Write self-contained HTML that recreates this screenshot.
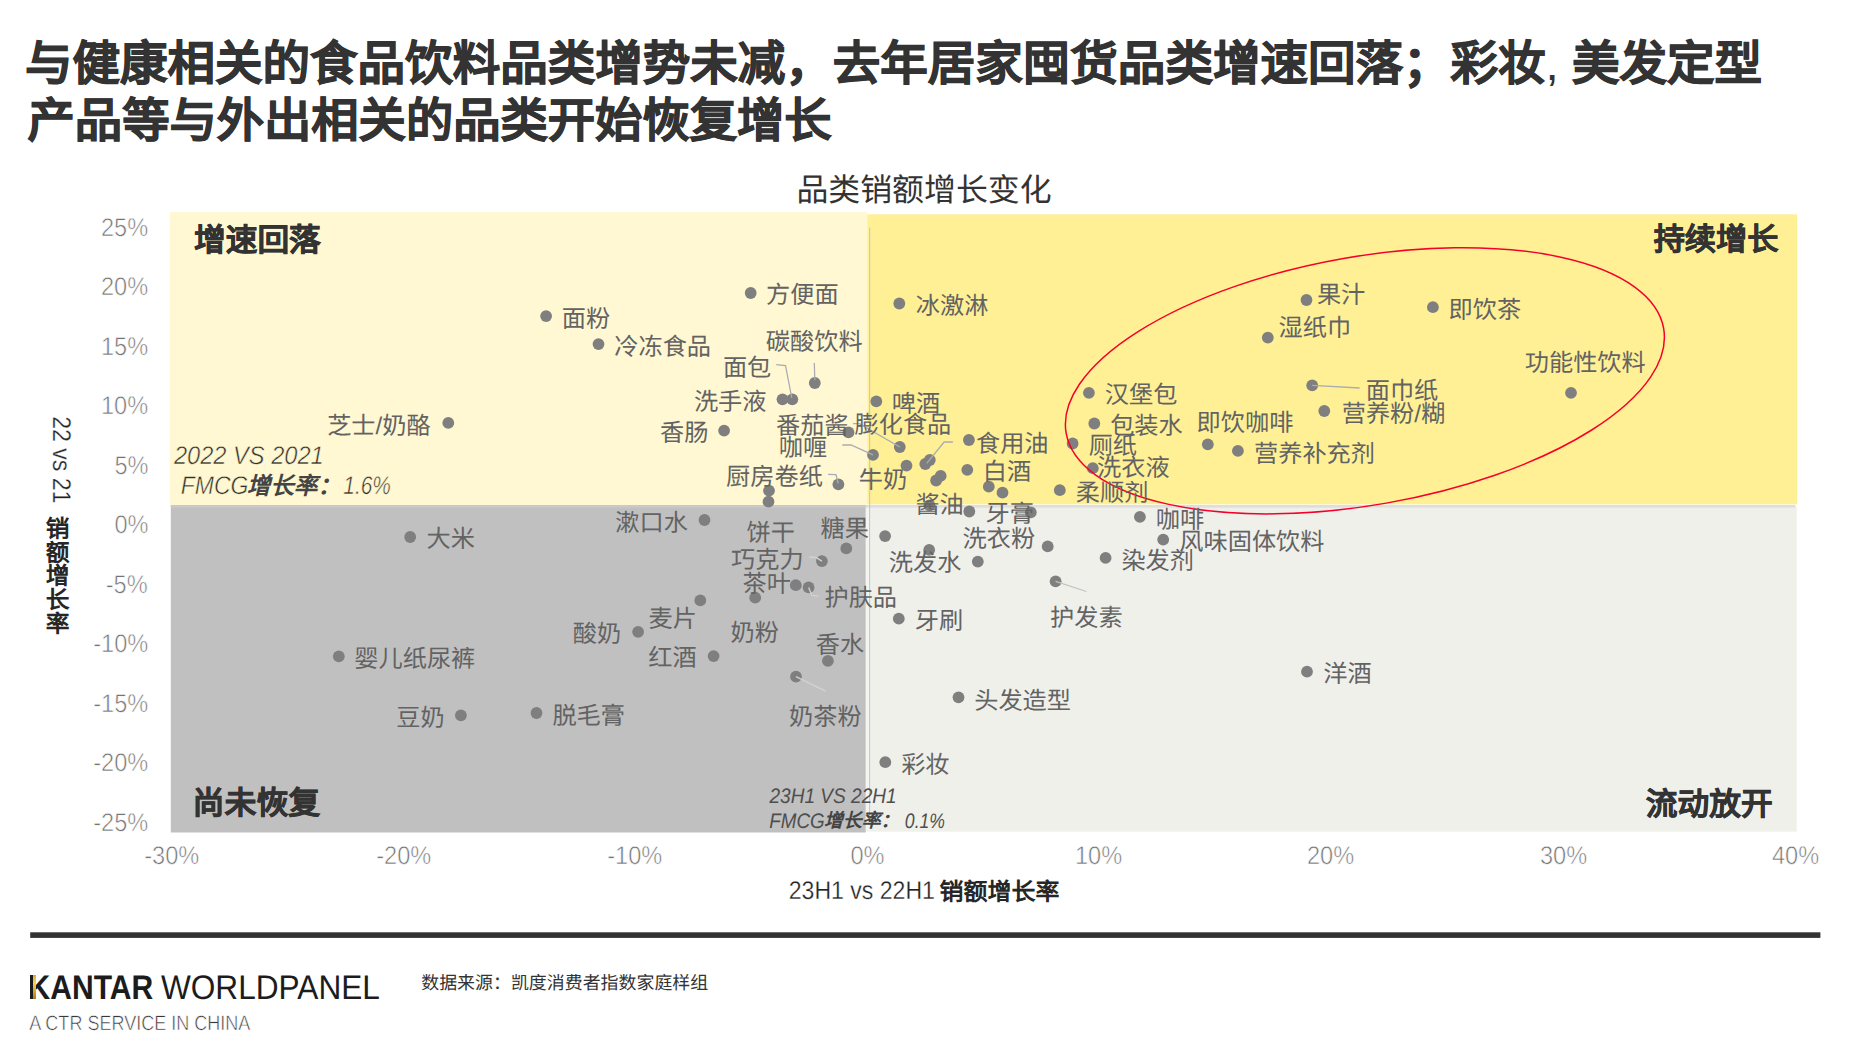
<!DOCTYPE html>
<html lang="zh-CN">
<head>
<meta charset="utf-8">
<title>品类销额增长变化</title>
<style>
html,body{margin:0;padding:0}
body{width:1855px;height:1041px;position:relative;overflow:hidden;background:#fff;font-family:"Liberation Sans",sans-serif;}
.t{position:absolute;white-space:nowrap;line-height:1;transform-origin:50% 50%;text-rendering:geometricPrecision;font-family:"Liberation Sans",sans-serif;}
.r{position:absolute}
svg{position:absolute;left:0;top:0}

</style>
</head>
<body>
<svg width="1855" height="1041" viewBox="0 0 1855 1041">
<rect x="170.0" y="212.0" width="697.3" height="293.0" fill="#fff8d2"/>
<rect x="867.3" y="214.3" width="929.7" height="290.1" fill="#fff096"/>
<rect x="170.8" y="505.0" width="695.0" height="327.5" fill="#c0c0c0"/>
<rect x="870.2" y="507.0" width="926.6" height="324.7" fill="#f0f0eb"/>
<rect x="865.8" y="507.0" width="4.4" height="324.7" fill="#f4f4f1"/>
<rect x="170.8" y="505.0" width="695" height="2.6" fill="#c9c9cc"/>
<rect x="865.8" y="505.0" width="929.7" height="2.7" fill="#dedede"/>
<rect x="869.1" y="227.5" width="1.1" height="594.3" fill="#c6c6c9"/>
<rect x="30.2" y="932.3" width="1790.2" height="5.6" fill="#333"/>
<g fill="#7f7f7f">
<circle cx="546.1" cy="316.1" r="5.9"/>
<circle cx="598.5" cy="344.1" r="5.9"/>
<circle cx="750.7" cy="293.0" r="5.9"/>
<circle cx="814.8" cy="383.0" r="5.9"/>
<circle cx="792.3" cy="399.3" r="5.9"/>
<circle cx="782.5" cy="399.3" r="5.9"/>
<circle cx="448.3" cy="422.9" r="5.9"/>
<circle cx="724.1" cy="430.6" r="5.9"/>
<circle cx="848.5" cy="432.4" r="5.9"/>
<circle cx="873.0" cy="454.8" r="5.9"/>
<circle cx="838.4" cy="484.3" r="5.9"/>
<circle cx="769.0" cy="490.6" r="5.9"/>
<circle cx="768.5" cy="501.7" r="5.9"/>
<circle cx="906.5" cy="465.6" r="5.9"/>
<circle cx="899.3" cy="303.5" r="5.9"/>
<circle cx="876.3" cy="401.3" r="5.9"/>
<circle cx="899.8" cy="447.0" r="5.9"/>
<circle cx="968.9" cy="440.0" r="5.9"/>
<circle cx="925.3" cy="464.0" r="5.9"/>
<circle cx="929.8" cy="460.0" r="5.9"/>
<circle cx="936.1" cy="480.5" r="5.9"/>
<circle cx="940.7" cy="475.9" r="5.9"/>
<circle cx="967.3" cy="469.8" r="5.9"/>
<circle cx="988.8" cy="486.7" r="5.9"/>
<circle cx="1002.5" cy="492.7" r="5.9"/>
<circle cx="1059.8" cy="490.2" r="5.9"/>
<circle cx="1088.9" cy="392.8" r="5.9"/>
<circle cx="1094.3" cy="423.5" r="5.9"/>
<circle cx="1072.6" cy="443.5" r="5.9"/>
<circle cx="1092.8" cy="468.2" r="5.9"/>
<circle cx="1207.8" cy="444.3" r="5.9"/>
<circle cx="1237.9" cy="450.9" r="5.9"/>
<circle cx="1306.5" cy="300.0" r="5.9"/>
<circle cx="1267.8" cy="337.6" r="5.9"/>
<circle cx="1312.2" cy="385.3" r="5.9"/>
<circle cx="1324.3" cy="411.0" r="5.9"/>
<circle cx="1432.9" cy="307.2" r="5.9"/>
<circle cx="1571.0" cy="392.8" r="5.9"/>
<circle cx="929.5" cy="505.3" r="5.9"/>
<circle cx="1030.8" cy="512.3" r="5.9"/>
<circle cx="969.3" cy="511.5" r="5.9"/>
<circle cx="1047.7" cy="546.4" r="5.9"/>
<circle cx="885.1" cy="536.1" r="5.9"/>
<circle cx="929.2" cy="549.9" r="5.9"/>
<circle cx="977.8" cy="561.6" r="5.9"/>
<circle cx="1139.9" cy="516.9" r="5.9"/>
<circle cx="1163.2" cy="539.6" r="5.9"/>
<circle cx="1105.6" cy="557.9" r="5.9"/>
<circle cx="1055.6" cy="581.3" r="5.9"/>
<circle cx="898.8" cy="618.7" r="5.9"/>
<circle cx="958.5" cy="697.3" r="5.9"/>
<circle cx="885.3" cy="762.2" r="5.9"/>
<circle cx="1307.0" cy="671.7" r="5.9"/>
<circle cx="704.5" cy="520.0" r="5.9"/>
<circle cx="846.3" cy="548.4" r="5.9"/>
<circle cx="821.9" cy="561.1" r="5.9"/>
<circle cx="795.8" cy="585.2" r="5.9"/>
<circle cx="808.6" cy="587.4" r="5.9"/>
<circle cx="755.2" cy="597.7" r="5.9"/>
<circle cx="700.3" cy="600.4" r="5.9"/>
<circle cx="638.1" cy="631.8" r="5.9"/>
<circle cx="713.6" cy="656.1" r="5.9"/>
<circle cx="827.9" cy="660.9" r="5.9"/>
<circle cx="796.0" cy="676.7" r="5.9"/>
<circle cx="410.2" cy="537.0" r="5.9"/>
<circle cx="338.8" cy="656.3" r="5.9"/>
<circle cx="460.9" cy="715.3" r="5.9"/>
<circle cx="536.5" cy="713.0" r="5.9"/>
</g>
<polyline fill="none" stroke="#ababb3" stroke-width="1.3" points="814.3,363.0 814.8,380.0"/>
<polyline fill="none" stroke="#ababb3" stroke-width="1.3" points="776.2,364.7 785.5,365.5 791.8,398.0"/>
<polyline fill="none" stroke="#ababb3" stroke-width="1.3" points="842.3,445.0 851.0,445.0 873.0,454.8"/>
<polyline fill="none" stroke="#ababb3" stroke-width="1.3" points="828.1,474.4 836.0,474.6 838.2,483.5"/>
<polyline fill="none" stroke="#ababb3" stroke-width="1.3" points="853.1,423.6 859.4,423.6 899.8,447.0"/>
<polyline fill="none" stroke="#ababb3" stroke-width="1.3" points="926.7,463.3 944.2,442.0 952.9,442.0"/>
<polyline fill="none" stroke="#ababb3" stroke-width="1.3" points="1312.2,385.3 1359.6,388.0"/>
<polyline fill="none" stroke="#c2c2c2" stroke-width="1.3" points="1055.6,581.3 1086.4,591.5"/>
<polyline fill="none" stroke="#d2d2d2" stroke-width="1.3" points="809.3,557.0 816.0,557.5 821.9,561.1"/>
<polyline fill="none" stroke="#d2d2d2" stroke-width="1.3" points="808.6,587.4 812.0,595.5 818.5,596.0"/>
<polyline fill="none" stroke="#d2d2d2" stroke-width="1.3" points="796.0,676.7 825.6,691.2"/>
<ellipse cx="1364.9" cy="380.8" rx="303.3" ry="124.2" transform="rotate(-9.95 1364.9 380.8)" fill="none" stroke="#f5002a" stroke-width="1.5"/>
</svg>
<span class="t" style="left:25.00px;top:40.70px;font-size:47.52px;font-weight:bold;-webkit-text-stroke:0.8px #333;color:#333">与健康相关的食品饮料品类增势未减，去年居家囤货品类增速回落；彩妆<span style="font-weight:normal;-webkit-text-stroke:0">, </span>美发定型</span>
<span class="t" style="left:27.55px;top:97.60px;font-size:47.31px;font-weight:bold;-webkit-text-stroke:0.8px #333;color:#333">产品等与外出相关的品类开始恢复增长</span>
<span class="t" style="left:796.45px;top:175.30px;font-size:31.90px;color:#333">品类销额增长变化</span>
<span class="t" style="left:194.05px;top:224.50px;font-size:31.70px;font-weight:bold;-webkit-text-stroke:0.5px #333;color:#333">增速回落</span>
<span class="t" style="left:1653.65px;top:224.10px;font-size:31.20px;font-weight:bold;-webkit-text-stroke:0.5px #333;color:#333">持续增长</span>
<span class="t" style="left:192.55px;top:788.10px;font-size:31.95px;font-weight:bold;-webkit-text-stroke:0.5px #333;color:#333">尚未恢复</span>
<span class="t" style="left:1645.85px;top:788.60px;font-size:31.70px;font-weight:bold;-webkit-text-stroke:0.5px #333;color:#333">流动放开</span>
<span class="t" style="left:99.30px;top:215.50px;font-size:25.50px;transform:scaleX(0.9250);color:#747474;-webkit-text-stroke:0.6px #fff">25%</span>
<span class="t" style="left:99.30px;top:275.00px;font-size:25.50px;transform:scaleX(0.9250);color:#747474;-webkit-text-stroke:0.6px #fff">20%</span>
<span class="t" style="left:99.30px;top:334.50px;font-size:25.50px;transform:scaleX(0.9250);color:#747474;-webkit-text-stroke:0.6px #fff">15%</span>
<span class="t" style="left:99.30px;top:394.00px;font-size:25.50px;transform:scaleX(0.9250);color:#747474;-webkit-text-stroke:0.6px #fff">10%</span>
<span class="t" style="left:113.30px;top:453.50px;font-size:25.50px;transform:scaleX(0.9250);color:#747474;-webkit-text-stroke:0.6px #fff">5%</span>
<span class="t" style="left:113.30px;top:513.00px;font-size:25.50px;transform:scaleX(0.9250);color:#747474;-webkit-text-stroke:0.6px #fff">0%</span>
<span class="t" style="left:104.30px;top:572.50px;font-size:25.50px;transform:scaleX(0.9250);color:#747474;-webkit-text-stroke:0.6px #fff">-5%</span>
<span class="t" style="left:91.30px;top:632.00px;font-size:25.50px;transform:scaleX(0.9250);color:#747474;-webkit-text-stroke:0.6px #fff">-10%</span>
<span class="t" style="left:91.30px;top:691.50px;font-size:25.50px;transform:scaleX(0.9250);color:#747474;-webkit-text-stroke:0.6px #fff">-15%</span>
<span class="t" style="left:91.30px;top:751.00px;font-size:25.50px;transform:scaleX(0.9250);color:#747474;-webkit-text-stroke:0.6px #fff">-20%</span>
<span class="t" style="left:91.30px;top:810.50px;font-size:25.50px;transform:scaleX(0.9250);color:#747474;-webkit-text-stroke:0.6px #fff">-25%</span>
<span class="t" style="left:142.00px;top:844.10px;font-size:25.50px;transform:scaleX(0.9250);color:#747474;-webkit-text-stroke:0.6px #fff">-30%</span>
<span class="t" style="left:373.85px;top:844.10px;font-size:25.50px;transform:scaleX(0.9250);color:#747474;-webkit-text-stroke:0.6px #fff">-20%</span>
<span class="t" style="left:605.45px;top:844.10px;font-size:25.50px;transform:scaleX(0.9250);color:#747474;-webkit-text-stroke:0.6px #fff">-10%</span>
<span class="t" style="left:848.50px;top:844.10px;font-size:25.50px;transform:scaleX(0.9250);color:#747474;-webkit-text-stroke:0.6px #fff">0%</span>
<span class="t" style="left:1073.25px;top:844.10px;font-size:25.50px;transform:scaleX(0.9250);color:#747474;-webkit-text-stroke:0.6px #fff">10%</span>
<span class="t" style="left:1305.45px;top:844.10px;font-size:25.50px;transform:scaleX(0.9250);color:#747474;-webkit-text-stroke:0.6px #fff">20%</span>
<span class="t" style="left:1538.20px;top:844.10px;font-size:25.50px;transform:scaleX(0.9250);color:#747474;-webkit-text-stroke:0.6px #fff">30%</span>
<span class="t" style="left:1769.95px;top:844.10px;font-size:25.50px;transform:scaleX(0.9250);color:#747474;-webkit-text-stroke:0.6px #fff">40%</span>
<span class="t" style="left:781.45px;top:878.90px;font-size:25.50px;transform:scaleX(0.9044);color:#222;-webkit-text-stroke:0.3px #fff">23H1 vs 22H1</span>
<span class="t" style="left:939.60px;top:881.10px;font-size:23.96px;font-weight:bold;color:#262626">销额增长率</span>
<span class="t" style="left:11.90px;top:447.00px;font-size:25.50px;transform:rotate(90deg) scaleX(0.9044);color:#222;-webkit-text-stroke:0.3px #fff">22 vs 21</span>
<span class="t" style="left:42.40px;top:515.90px;font-size:23.76px;font-weight:bold;color:#262626;writing-mode:vertical-rl">销额增长率</span>
<span class="t" style="left:167.65px;top:444.10px;font-size:25.50px;transform:scaleX(0.9271);font-style:italic;color:#303030;-webkit-text-stroke:0.55px #fff8d2">2022 VS 2021</span>
<span class="t" style="left:176.80px;top:473.60px;font-size:25.50px;transform:scaleX(0.9000);font-style:italic;color:#303030;-webkit-text-stroke:0.55px #fff8d2">FMCG</span>
<span class="t" style="left:246.70px;top:476.30px;font-size:23.60px;font-style:italic;color:#444;font-weight:bold">增长率：</span>
<span class="t" style="left:338.25px;top:473.60px;font-size:25.50px;transform:scaleX(0.8179);font-style:italic;color:#303030;-webkit-text-stroke:0.55px #fff8d2">1.6%</span>
<span class="t" style="left:763.25px;top:786.10px;font-size:21.00px;transform:scaleX(0.9073);font-style:italic;color:#4e4e4e">23H1 VS 22H1</span>
<span class="t" style="left:765.95px;top:810.60px;font-size:21.00px;transform:scaleX(0.8967);font-style:italic;color:#4e4e4e">FMCG</span>
<span class="t" style="left:823.95px;top:813.30px;font-size:18.90px;font-style:italic;color:#444;font-weight:bold">增长率：</span>
<span class="t" style="left:900.50px;top:810.60px;font-size:21.00px;transform:scaleX(0.8392);font-style:italic;color:#4e4e4e">0.1%</span>
<span class="t" style="left:20.40px;top:971.10px;font-size:34.20px;transform:scaleX(0.8791);font-weight:bold;color:#1c1c1c">KANTAR</span>
<span class="t" style="left:152.10px;top:971.10px;font-size:34.20px;transform:scaleX(0.9246);color:#1c1c1c">WORLDPANEL</span>
<span class="t" style="left:13.10px;top:1013.60px;font-size:20.70px;transform:scaleX(0.8714);color:#383838;-webkit-text-stroke:0.6px #fff">A CTR SERVICE IN CHINA</span>
<span class="t" style="left:421.25px;top:975.00px;font-size:17.94px;color:#333">数据来源：凯度消费者指数家庭样组</span>
<div class="r" style="left:30.1px;top:975.1px;width:2.9px;height:24px;background:#1c1c1c"></div><div class="r" style="left:32.9px;top:975.1px;width:3.1px;height:24px;background:linear-gradient(180deg,#d8ac3a 0%,#f3d657 35%,#d2a32c 70%,#b07c0e 100%)"></div>
<span class="t" style="left:561.70px;top:307.80px;font-size:24.20px;color:#636363">面粉</span>
<span class="t" style="left:614.25px;top:335.90px;font-size:24.20px;color:#636363">冷冻食品</span>
<span class="t" style="left:766.05px;top:284.00px;font-size:24.20px;color:#636363">方便面</span>
<span class="t" style="left:765.85px;top:330.80px;font-size:24.20px;color:#636363">碳酸饮料</span>
<span class="t" style="left:722.90px;top:356.70px;font-size:24.20px;color:#636363">面包</span>
<span class="t" style="left:693.90px;top:390.80px;font-size:24.20px;color:#636363">洗手液</span>
<span class="t" style="left:327.15px;top:415.00px;font-size:24.20px;color:#636363">芝士/奶酪</span>
<span class="t" style="left:660.10px;top:421.90px;font-size:24.20px;color:#636363">香肠</span>
<span class="t" style="left:775.95px;top:414.60px;font-size:24.20px;color:#636363">番茄酱</span>
<span class="t" style="left:778.70px;top:437.40px;font-size:24.20px;color:#636363">咖喱</span>
<span class="t" style="left:726.10px;top:465.60px;font-size:24.20px;color:#636363">厨房卷纸</span>
<span class="t" style="left:858.70px;top:469.00px;font-size:24.20px;color:#636363">牛奶</span>
<span class="t" style="left:915.85px;top:294.50px;font-size:24.20px;color:#636363">冰激淋</span>
<span class="t" style="left:891.75px;top:393.30px;font-size:24.20px;color:#636363">啤酒</span>
<span class="t" style="left:854.50px;top:413.60px;font-size:24.20px;color:#636363">膨化食品</span>
<span class="t" style="left:975.95px;top:433.00px;font-size:24.20px;color:#636363">食用油</span>
<span class="t" style="left:982.85px;top:460.70px;font-size:24.20px;color:#636363">白酒</span>
<span class="t" style="left:1075.80px;top:481.50px;font-size:24.20px;color:#636363">柔顺剂</span>
<span class="t" style="left:1104.75px;top:383.50px;font-size:24.20px;color:#636363">汉堡包</span>
<span class="t" style="left:1110.15px;top:415.00px;font-size:24.20px;color:#636363">包装水</span>
<span class="t" style="left:1088.65px;top:435.30px;font-size:24.20px;color:#636363">厕纸</span>
<span class="t" style="left:1097.10px;top:456.90px;font-size:24.20px;color:#636363">洗衣液</span>
<span class="t" style="left:1196.60px;top:411.70px;font-size:24.20px;color:#636363">即饮咖啡</span>
<span class="t" style="left:1254.05px;top:442.70px;font-size:24.20px;color:#636363">营养补充剂</span>
<span class="t" style="left:1316.90px;top:284.40px;font-size:24.20px;color:#636363">果汁</span>
<span class="t" style="left:1278.60px;top:316.60px;font-size:24.20px;color:#636363">湿纸巾</span>
<span class="t" style="left:1365.70px;top:379.80px;font-size:24.20px;color:#636363">面巾纸</span>
<span class="t" style="left:1341.70px;top:403.10px;font-size:24.20px;color:#636363">营养粉/糊</span>
<span class="t" style="left:1448.55px;top:298.80px;font-size:24.20px;color:#636363">即饮茶</span>
<span class="t" style="left:1524.75px;top:352.10px;font-size:24.20px;color:#636363">功能性饮料</span>
<span class="t" style="left:915.40px;top:493.80px;font-size:24.20px;color:#636363">酱油</span>
<span class="t" style="left:985.60px;top:503.00px;font-size:24.20px;color:#636363">牙膏</span>
<span class="t" style="left:962.50px;top:527.80px;font-size:24.20px;color:#636363">洗衣粉</span>
<span class="t" style="left:888.75px;top:552.30px;font-size:24.20px;color:#636363">洗发水</span>
<span class="t" style="left:1155.70px;top:508.70px;font-size:24.20px;color:#636363">咖啡</span>
<span class="t" style="left:1179.35px;top:530.80px;font-size:24.20px;color:#636363">风味固体饮料</span>
<span class="t" style="left:1121.40px;top:549.60px;font-size:24.20px;color:#636363">染发剂</span>
<span class="t" style="left:1050.10px;top:606.90px;font-size:24.20px;color:#636363">护发素</span>
<span class="t" style="left:914.80px;top:609.50px;font-size:24.20px;color:#636363">牙刷</span>
<span class="t" style="left:974.20px;top:689.70px;font-size:24.20px;color:#636363">头发造型</span>
<span class="t" style="left:901.15px;top:754.10px;font-size:24.20px;color:#636363">彩妆</span>
<span class="t" style="left:1323.35px;top:662.80px;font-size:24.20px;color:#636363">洋酒</span>
<span class="t" style="left:615.25px;top:511.70px;font-size:24.20px;color:#636363">漱口水</span>
<span class="t" style="left:746.60px;top:521.50px;font-size:24.20px;color:#636363">饼干</span>
<span class="t" style="left:820.55px;top:517.70px;font-size:24.20px;color:#636363">糖果</span>
<span class="t" style="left:731.10px;top:548.80px;font-size:24.20px;color:#636363">巧克力</span>
<span class="t" style="left:742.45px;top:572.90px;font-size:24.20px;color:#636363">茶叶</span>
<span class="t" style="left:824.45px;top:587.20px;font-size:24.20px;color:#636363">护肤品</span>
<span class="t" style="left:648.60px;top:608.00px;font-size:24.20px;color:#636363">麦片</span>
<span class="t" style="left:572.85px;top:623.30px;font-size:24.20px;color:#636363">酸奶</span>
<span class="t" style="left:730.55px;top:622.30px;font-size:24.20px;color:#636363">奶粉</span>
<span class="t" style="left:648.30px;top:647.30px;font-size:24.20px;color:#636363">红酒</span>
<span class="t" style="left:815.75px;top:633.60px;font-size:24.20px;color:#636363">香水</span>
<span class="t" style="left:789.10px;top:706.40px;font-size:24.20px;color:#636363">奶茶粉</span>
<span class="t" style="left:426.55px;top:528.40px;font-size:24.20px;color:#636363">大米</span>
<span class="t" style="left:354.35px;top:647.70px;font-size:24.20px;color:#636363">婴儿纸尿裤</span>
<span class="t" style="left:396.35px;top:706.70px;font-size:24.20px;color:#636363">豆奶</span>
<span class="t" style="left:552.40px;top:705.10px;font-size:24.20px;color:#636363">脱毛膏</span>
</body>
</html>
